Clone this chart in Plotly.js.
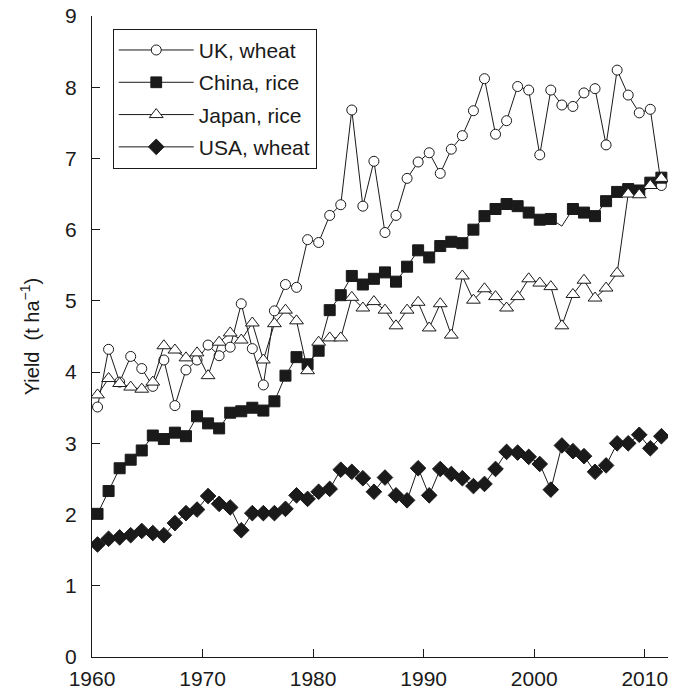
<!DOCTYPE html>
<html>
<head>
<meta charset="utf-8">
<script src="https://cdn.plot.ly/plotly-3.0.1.min.js"></script>
<style>
  html, body { margin: 0; padding: 0; background: #fff; }
  #chart { width: 682px; height: 689px; }
</style>
</head>
<body>
<div id="chart"></div>
<script>
// Harvest years 1961–2012 (each plotted at the middle of its year interval)
const years = [1961,1962,1963,1964,1965,1966,1967,1968,1969,1970,
  1971,1972,1973,1974,1975,1976,1977,1978,1979,1980,
  1981,1982,1983,1984,1985,1986,1987,1988,1989,1990,
  1991,1992,1993,1994,1995,1996,1997,1998,1999,2000,
  2001,2002,2003,2004,2005,2006,2007,2008,2009,2010,
  2011,2012];

const ukWheat = [3.51,4.32,3.86,4.22,4.05,3.80,4.17,3.53,4.03,4.17,
  4.38,4.23,4.35,4.96,4.33,3.82,4.86,5.23,5.19,5.86,
  5.82,6.20,6.35,7.68,6.33,6.96,5.96,6.20,6.72,6.95,
  7.08,6.79,7.13,7.32,7.67,8.12,7.34,7.53,8.01,7.96,
  7.05,7.96,7.75,7.73,7.92,7.98,7.19,8.24,7.89,7.64,
  7.69,6.62];

const chinaRice = [2.01,2.33,2.65,2.77,2.90,3.11,3.06,3.15,3.10,3.38,
  3.28,3.21,3.43,3.45,3.50,3.46,3.59,3.95,4.21,4.11,
  4.30,4.87,5.08,5.35,5.23,5.31,5.40,5.27,5.48,5.71,
  5.61,5.77,5.83,5.81,6.00,6.19,6.29,6.36,6.33,6.24,
  6.14,6.15,6.05,6.29,6.24,6.19,6.40,6.53,6.57,6.55,
  6.66,6.73];

const japanRice = [3.68,3.91,3.84,3.79,3.76,3.86,4.37,4.31,4.20,4.27,
  3.95,4.42,4.55,4.45,4.69,4.17,4.68,4.87,4.72,4.02,
  4.42,4.48,4.48,5.05,4.90,4.99,4.87,4.65,4.87,4.98,
  4.62,4.96,4.52,5.35,5.01,5.17,5.06,4.90,5.06,5.31,
  5.25,5.20,4.65,5.09,5.29,5.04,5.18,5.39,6.50,6.49,
  6.62,6.72];

const usaWheat = [1.58,1.66,1.68,1.71,1.77,1.74,1.71,1.88,2.02,2.07,
  2.26,2.15,2.10,1.78,2.02,2.02,2.02,2.08,2.27,2.22,
  2.32,2.36,2.63,2.60,2.51,2.32,2.52,2.27,2.20,2.65,
  2.27,2.64,2.57,2.51,2.40,2.43,2.64,2.88,2.87,2.81,
  2.71,2.35,2.97,2.89,2.82,2.60,2.69,3.00,3.00,3.12,
  2.93,3.10];

const seriesNames = ['UK, wheat', 'China, rice', 'Japan, rice', 'USA, wheat'];
const xTickVals = [1960, 1970, 1980, 1990, 2000, 2010];
const yTickVals = [0, 1, 2, 3, 4, 5, 6, 7, 8, 9];

// the source omits the marker on China's 2003 point
const chinaMissingMarker = 2003;

const xPos = years.map(y => y - 0.5);
const INK = '#1a1a1a';
const FONT = 'Liberation Sans, Arial, Helvetica, sans-serif';

function trace(name, ys, symbol, size, fill, group, sizeArr) {
  return {
    x: xPos, y: ys, name: name, type: 'scatter', mode: 'lines+markers',
    legendgroup: group,
    line: { color: INK, width: 1 },
    marker: { symbol: symbol, size: sizeArr || size, color: fill, opacity: 1,
              line: { color: INK, width: 1 } }
  };
}

const chinaSizes = years.map(y => y === chinaMissingMarker ? 0 : 11);

const data = [
  trace(seriesNames[0], ukWheat, 'circle', 10, '#ffffff', 'g1'),
  trace(seriesNames[1], chinaRice, 'square', 11, INK, 'g2', chinaSizes),
  trace(seriesNames[2], japanRice, 'triangle-up', 12, '#ffffff', 'g3'),
  trace(seriesNames[3], usaWheat, 'diamond', 12, INK, 'g4')
];

const layout = {
  width: 682, height: 689,
  margin: { l: 91.5, r: 14, t: 15.7, b: 32, autoexpand: false },
  paper_bgcolor: '#ffffff', plot_bgcolor: '#ffffff',
  font: { family: FONT, size: 21, color: INK },
  showlegend: true,
  legend: {
    x: 0.036, y: 0.980, xanchor: 'left', yanchor: 'top',
    bgcolor: '#ffffff', bordercolor: INK, borderwidth: 1,
    font: { family: FONT, size: 21, color: INK },
    tracegroupgap: 2, itemwidth: 75
  },
  xaxis: {
    range: [1960, 2012.1], tickvals: xTickVals,
    ticks: 'inside', ticklen: 8, tickwidth: 1, tickcolor: INK,
    showline: true, linecolor: INK, linewidth: 1,
    showgrid: false, zeroline: false, ticklabelstandoff: 3,
    tickfont: { family: FONT, size: 21, color: INK }
  },
  yaxis: {
    range: [0, 9], tickvals: yTickVals,
    ticks: 'inside', ticklen: 8, tickwidth: 1, tickcolor: INK,
    showline: true, linecolor: INK, linewidth: 1,
    showgrid: false, zeroline: false, ticklabelstandoff: 10,
    tickfont: { family: FONT, size: 21, color: INK },
    title: { text: 'Yield  (t ha<sup>−1</sup>)', font: { family: FONT, size: 20, color: INK }, standoff: 20 }
  }
};

Plotly.newPlot('chart', data, layout, { staticPlot: true, displayModeBar: false });
</script>
</body>
</html>
